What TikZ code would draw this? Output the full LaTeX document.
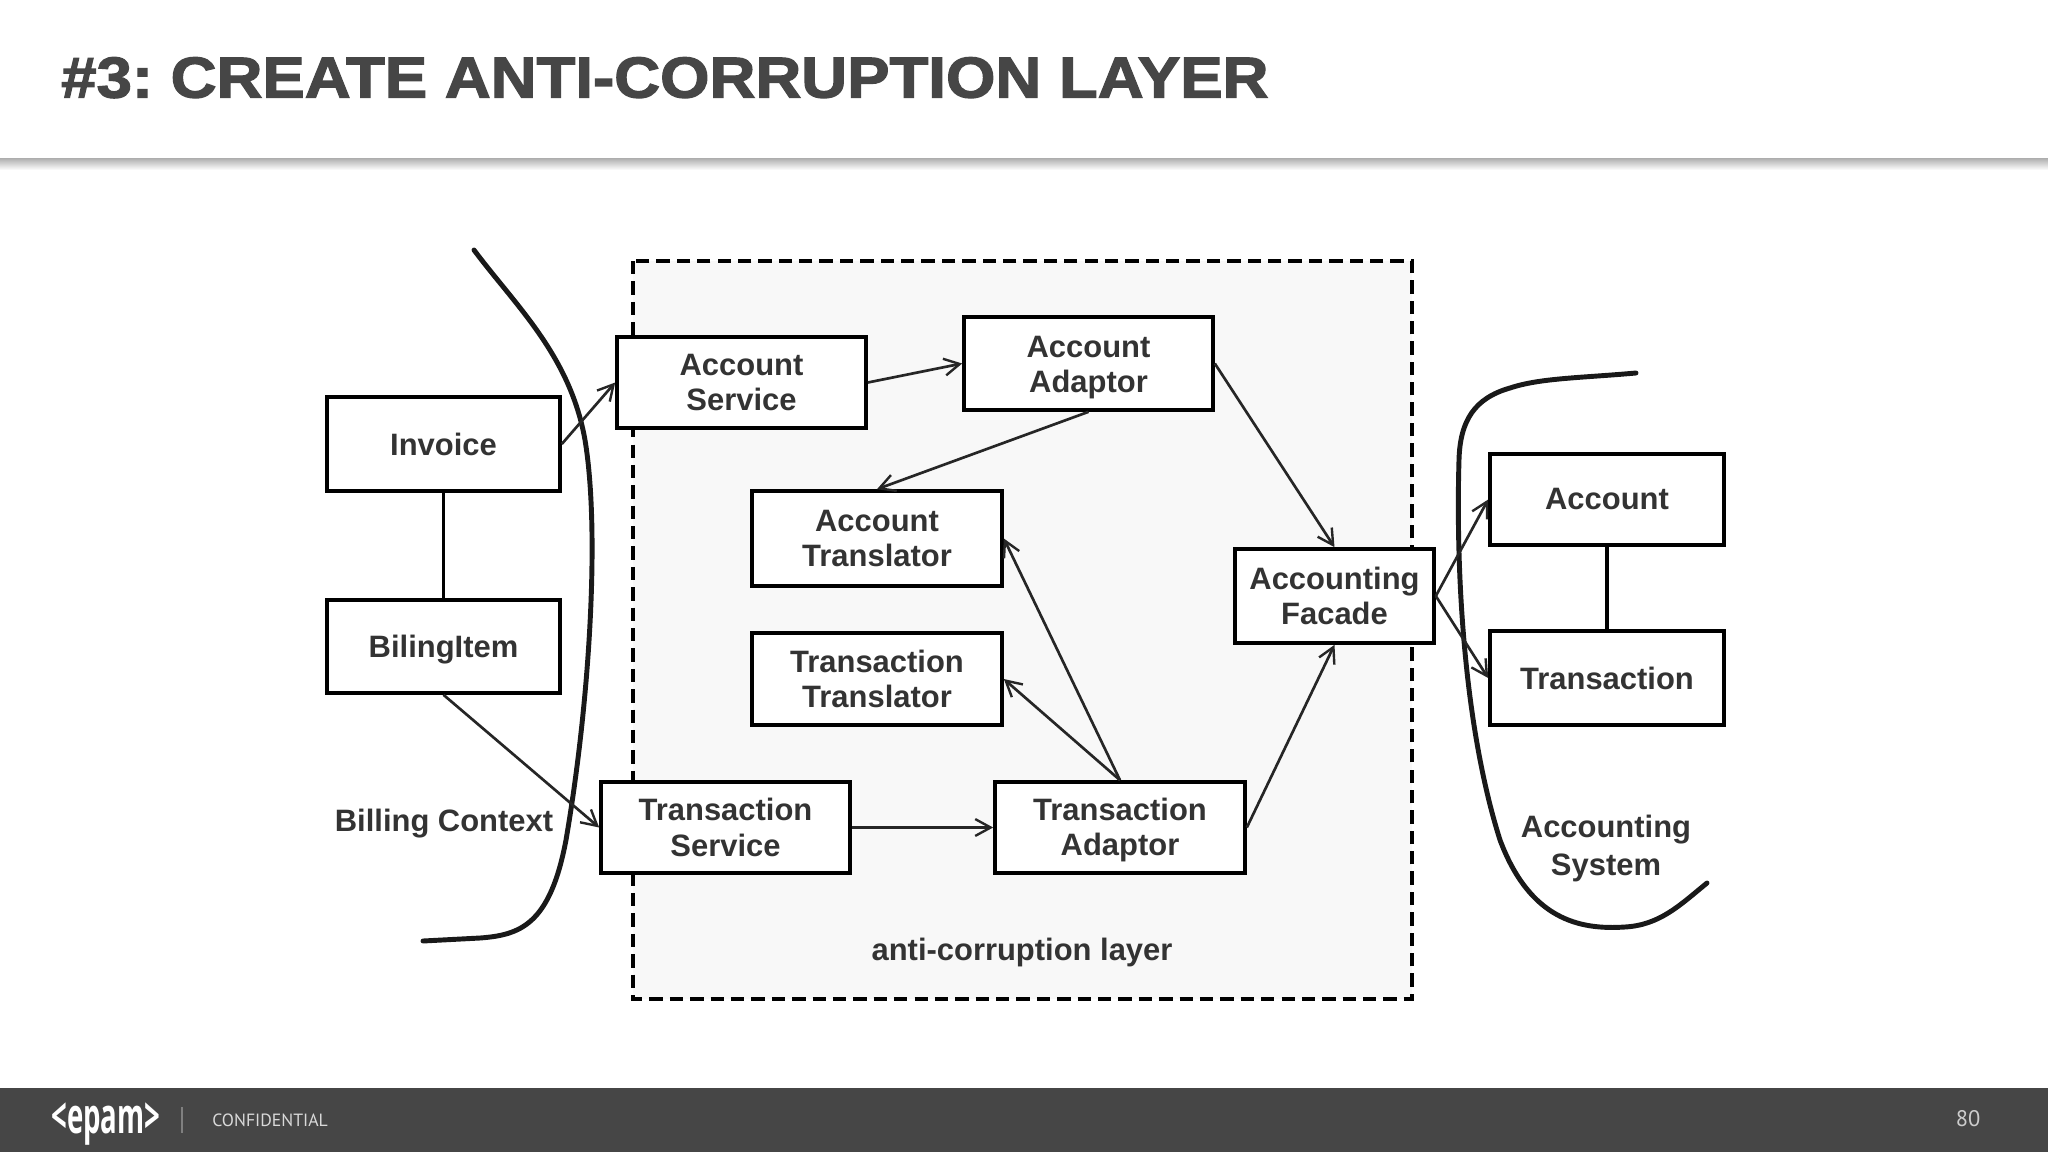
\documentclass[tikz,border=0pt]{standalone}
\usepackage{xcolor}
\usepackage{fontspec}
\usepackage{tikz}
\usetikzlibrary{arrows.meta,shapes}
\setmainfont{Liberation Sans}
\newfontfamily\ptfont{PT Sans}
\newfontfamily\logofont{Open Sans}
\newfontfamily\titlefont[FakeStretch=1.102,BoldFeatures={FakeBold=2.2}]{Liberation Sans}
\definecolor{inkcol}{HTML}{333333}
\definecolor{headcol}{HTML}{464646}
\definecolor{footcol}{HTML}{464646}
\definecolor{layercol}{HTML}{F8F8F8}
\newcommand{\lowertext}[2]{\raisebox{-#1}[\height][\depth]{#2}}
\tikzstyle{classbox}=[draw=black,line width=2.6pt,fill=white,rectangle,inner sep=0pt,text=inkcol,align=center,font=\fontsize{22}{25}\selectfont\bfseries]
\tikzset{boxsize/.style 2 args={minimum width=#1*0.025cm,minimum height=#2*0.025cm}}
\tikzstyle{caption}=[text=inkcol,align=center,inner sep=0pt,font=\fontsize{22}{27}\selectfont\bfseries]
\tikzstyle{dep}=[line width=1.9pt,draw=black!85,-{Straight Barb[length=11pt,width=12pt,line width=1.7pt]}]
\tikzstyle{assoc}=[line width=2.2pt,draw=black]
\tikzstyle{hand}=[line width=3.5pt,draw=black!90,line cap=round,line join=round]
\begin{document}
\begin{tikzpicture}[x=0.025cm,y=-0.025cm]
\useasboundingbox (0,0) rectangle (2048,1152);
% header and footer
\fill[white] (0,0) rectangle (2048,1152);
\shade[top color=black!32,bottom color=white] (0,158) rectangle (2048,170);
\fill[footcol] (0,1088) rectangle (2048,1152);
\node[anchor=base west,inner sep=0pt,text=headcol] (title) at (61,97.5) {\frenchspacing\titlefont\bfseries\fontsize{41}{41}\selectfont \#3: CREATE ANTI-CORRUPTION LAYER};
\node[anchor=west,inner sep=0pt,text=white] (logo) at (51,1124) {\scalebox{0.56}[1]{\logofont\bfseries\fontsize{35}{35}\selectfont <epam>}};
\draw[gray,line width=0.8pt] (182,1107) -- (182,1133);
\node[anchor=west,inner sep=0pt,text=black!15] (conf) at (212,1120) {\ptfont\fontsize{12.6}{14}\selectfont CONFIDENTIAL};
\node[inner sep=0pt,text=black!20] (page) at (1968,1119) {\ptfont\fontsize{16}{18}\selectfont 80};
% the layer
\draw[fill=layercol,draw=black,line width=2.5pt,dash pattern=on 9.5pt off 5pt] (633,261) rectangle (1412,999);
% context borders
\draw[hand] (474,250) .. controls (515,305) and (570,355) .. (585,440) .. controls (600,530) and (590,700) .. (566,840) .. controls (550,925) and (520,935) .. (480,938) -- (423,941);
\draw[hand] (1636,373) .. controls (1580,378) and (1540,378) .. (1510,388) .. controls (1475,398) and (1460,420) .. (1459,460) .. controls (1456,560) and (1462,720) .. (1500,840) .. controls (1530,920) and (1580,930) .. (1625,927) .. controls (1660,925) and (1680,905) .. (1707,883);
% boxes
\node[classbox,boxsize={233}{94}] (invoice) at (443.5,444) {Invoice};
\node[classbox,boxsize={233}{93}] (billingitem) at (443.5,646.5) {\lowertext{2.5pt}{BilingItem}};
\node[classbox,boxsize={249}{91}] (accservice) at (741.5,382.5) {Account\\Service};
\node[classbox,boxsize={249}{93}] (accadaptor) at (1088.5,363.5) {\lowertext{3pt}{Account}\\\lowertext{3pt}{Adaptor}};
\node[classbox,boxsize={250}{95}] (acctranslator) at (877,538.5) {Account\\Translator};
\node[classbox,boxsize={250}{92}] (trtranslator) at (877,679) {Transaction\\Translator};
\node[classbox,boxsize={249}{91}] (trservice) at (725.5,827.5) {Transaction\\Service};
\node[classbox,boxsize={250}{91}] (tradaptor) at (1120,827.5) {\lowertext{2pt}{Transaction}\\\lowertext{2pt}{Adaptor}};
\node[classbox,boxsize={199}{94}] (facade) at (1334.5,596) {Accounting\\Facade};
\node[classbox,boxsize={234}{91}] (account) at (1607,499.5) {Account};
\node[classbox,boxsize={234}{94}] (transaction) at (1607,678) {Transaction};
\node[caption] (billingctx) at (444,823.5) {Billing Context};
\node[caption] (layerlbl) at (1022,952.5) {anti-corruption layer};
\node[caption] (accsystem) at (1606,848.5) {Accounting\\System};
% connectors
\draw[assoc] (invoice) -- (billingitem);
\draw[assoc] (account) -- (transaction);
\draw[dep] (invoice.east) -- (accservice.west);
\draw[dep] (accservice.east) -- (accadaptor.west);
\draw[dep] (accadaptor.south) -- (acctranslator.north);
\draw[dep] (accadaptor.east) -- (facade.north);
\draw[dep] (billingitem.south) -- (trservice.west);
\draw[dep] (trservice.east) -- (tradaptor.west);
\draw[dep] (tradaptor.north) -- (acctranslator.east);
\draw[dep] (tradaptor.north) -- (trtranslator.east);
\draw[dep] (tradaptor.east) -- (facade.south);
\draw[dep] (facade.east) -- (account.west);
\draw[dep] (facade.east) -- (transaction.west);
\end{tikzpicture}
\end{document}
